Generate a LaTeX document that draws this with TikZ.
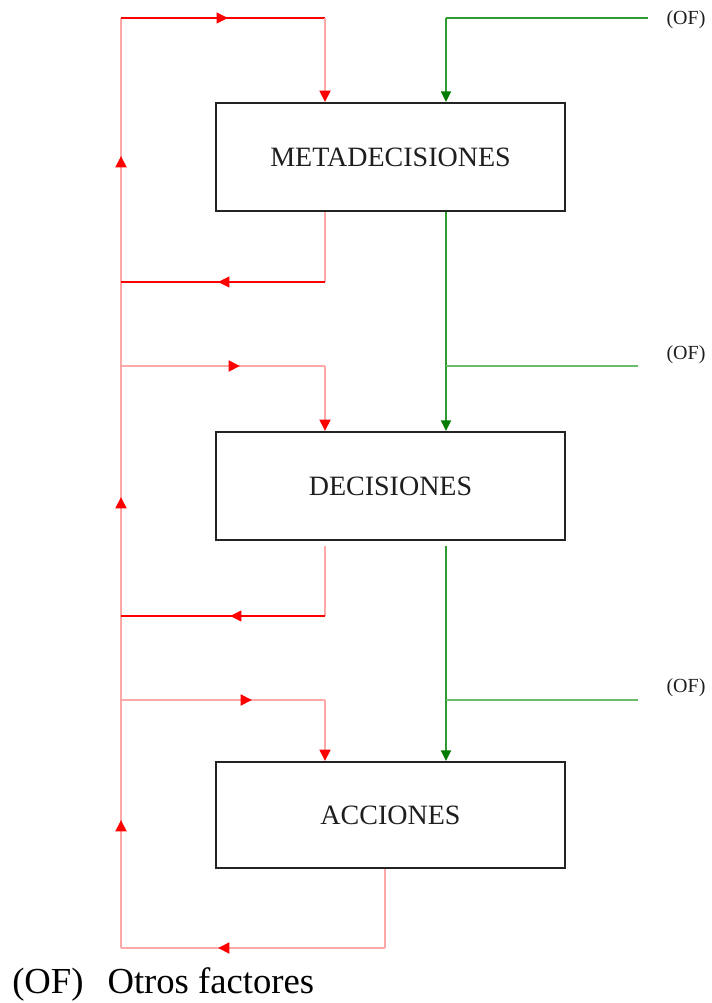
\documentclass[tikz,border=0pt]{standalone}
\usepackage{fontspec}
\setmainfont{Liberation Serif}
\usetikzlibrary{arrows.meta,decorations.markings}

\definecolor{linkred}{RGB}{255,0,0}
\definecolor{linkpink}{RGB}{255,168,168}
\definecolor{ofgreen}{RGB}{45,155,45}
\definecolor{oflight}{RGB}{105,188,105}
\definecolor{tipgreen}{RGB}{0,125,0}
\definecolor{boxline}{RGB}{35,35,35}
\definecolor{labeltext}{RGB}{30,30,30}

\tikzset{
  stage/.style={draw=boxline, line width=1.5pt, fill=white,
    minimum width=261.75pt, minimum height=81pt, inner sep=0pt,
    text=labeltext, font=\fontsize{21pt}{25pt}\selectfont},
  redline/.style={draw=linkred, line width=1.5pt},
  pinkline/.style={draw=linkpink, line width=2pt},
  greenline/.style={draw=ofgreen, line width=1.6pt},
  lightgreenline/.style={draw=oflight, line width=1.6pt},
  redtip/.style={-{Triangle[length=8.5pt,width=8pt,color=linkred]}},
  greentip/.style={-{Triangle[length=8pt,width=7.5pt,color=tipgreen]}},
  midtip/.style={postaction={decorate}, decoration={markings,
    mark=at position #1 with {\arrow{Triangle[length=8.5pt,width=8pt,color=linkred]}}}},
  spinetips/.style={postaction={decorate}, decoration={markings,
    mark=at position 96pt with {\arrow{Triangle[length=8.5pt,width=8pt,color=linkred]}},
    mark=at position 338.25pt with {\arrow{Triangle[length=8.5pt,width=8pt,color=linkred]}},
    mark=at position 594pt with {\arrow{Triangle[length=8.5pt,width=8pt,color=linkred]}}}},
  oflabel/.style={font=\fontsize{15pt}{18pt}\selectfont, text=labeltext, inner sep=0pt}
}

\begin{document}
\begin{tikzpicture}[x=0.75pt, y=-0.75pt]
  \useasboundingbox (0,0) rectangle (712,1003);

  % the three stages
  \node[stage] (meta) at (390.5,157) {\raisebox{-1.5pt}{METADECISIONES}};
  \node[stage] (dec)  at (390.5,486) {\raisebox{-1.5pt}{DECISIONES}};
  \node[stage, minimum height=79.5pt] (act) at (390.5,815) {\raisebox{-1.5pt}{ACCIONES}};

  % other-factor labels
  \node[oflabel] (of0) at (686,20)  {(OF)};
  \node[oflabel] (of1) at (686,355) {(OF)};
  \node[oflabel] (of2) at (686,688) {(OF)};

  % junction points of the feedback loops
  \coordinate (topL) at (121,18);
  \coordinate (topR) at (325,18);
  \coordinate (l1) at (121,282);  \coordinate (r1) at (325,282);
  \coordinate (l2) at (121,366);  \coordinate (r2) at (325,366);
  \coordinate (l3) at (121,616);  \coordinate (r3) at (325,616);
  \coordinate (l4) at (121,700);  \coordinate (r4) at (325,700);
  \coordinate (botL) at (121,948);
  \coordinate (botR) at (385,948);

  % junction points of the other-factor inputs
  \coordinate (g0) at (446,18);   \coordinate (e0) at (648,18);
  \coordinate (g1) at (446,366);  \coordinate (e1) at (638,366);
  \coordinate (g2) at (446,700);  \coordinate (e2) at (638,700);

  % feedback spine on the left
  \draw[pinkline, spinetips] (botL) -- (topL);

  % loop into METADECISIONES
  \draw[redline, midtip=80.25pt] (topL) -- (topR);
  \draw[pinkline, redtip] (topR) -- (meta.north -| topR);

  % METADECISIONES back to the spine
  \draw[pinkline] (meta.south -| r1) -- (r1);
  \draw[redline, midtip=80.25pt] (r1) -- (l1);

  % spine into DECISIONES
  \draw[pinkline, midtip=89.25pt] (l2) -- (r2);
  \draw[pinkline, redtip] (r2) -- (dec.north -| r2);

  % DECISIONES back to the spine
  \draw[pinkline, shorten <=3.75pt] (dec.south -| r3) -- (r3);
  \draw[redline, midtip=71.25pt] (r3) -- (l3);

  % spine into ACCIONES
  \draw[pinkline, midtip=98.25pt] (l4) -- (r4);
  \draw[pinkline, redtip] (r4) -- (act.north -| r4);

  % ACCIONES back to the spine
  \draw[pinkline] (act.south -| botR) -- (botR);
  \draw[pinkline, midtip=125.25pt] (botR) -- (botL);

  % other factors feeding the chain
  \draw[greenline] (e0) -- (g0);
  \draw[greenline, greentip] (g0) -- (meta.north -| g0);
  \draw[greenline, greentip] (meta.south -| g0) -- (dec.north -| g0);
  \draw[lightgreenline] (e1) -- (g1);
  \draw[greenline, greentip, shorten <=3.75pt] (dec.south -| g0) -- (act.north -| g0);
  \draw[lightgreenline] (e2) -- (g2);

  % legend
  \node[anchor=base west, inner sep=0pt, font=\fontsize{27.5pt}{32pt}\selectfont] (legend)
    at (12,993) {(OF)\hspace{18pt}Otros factores};
\end{tikzpicture}
\end{document}
